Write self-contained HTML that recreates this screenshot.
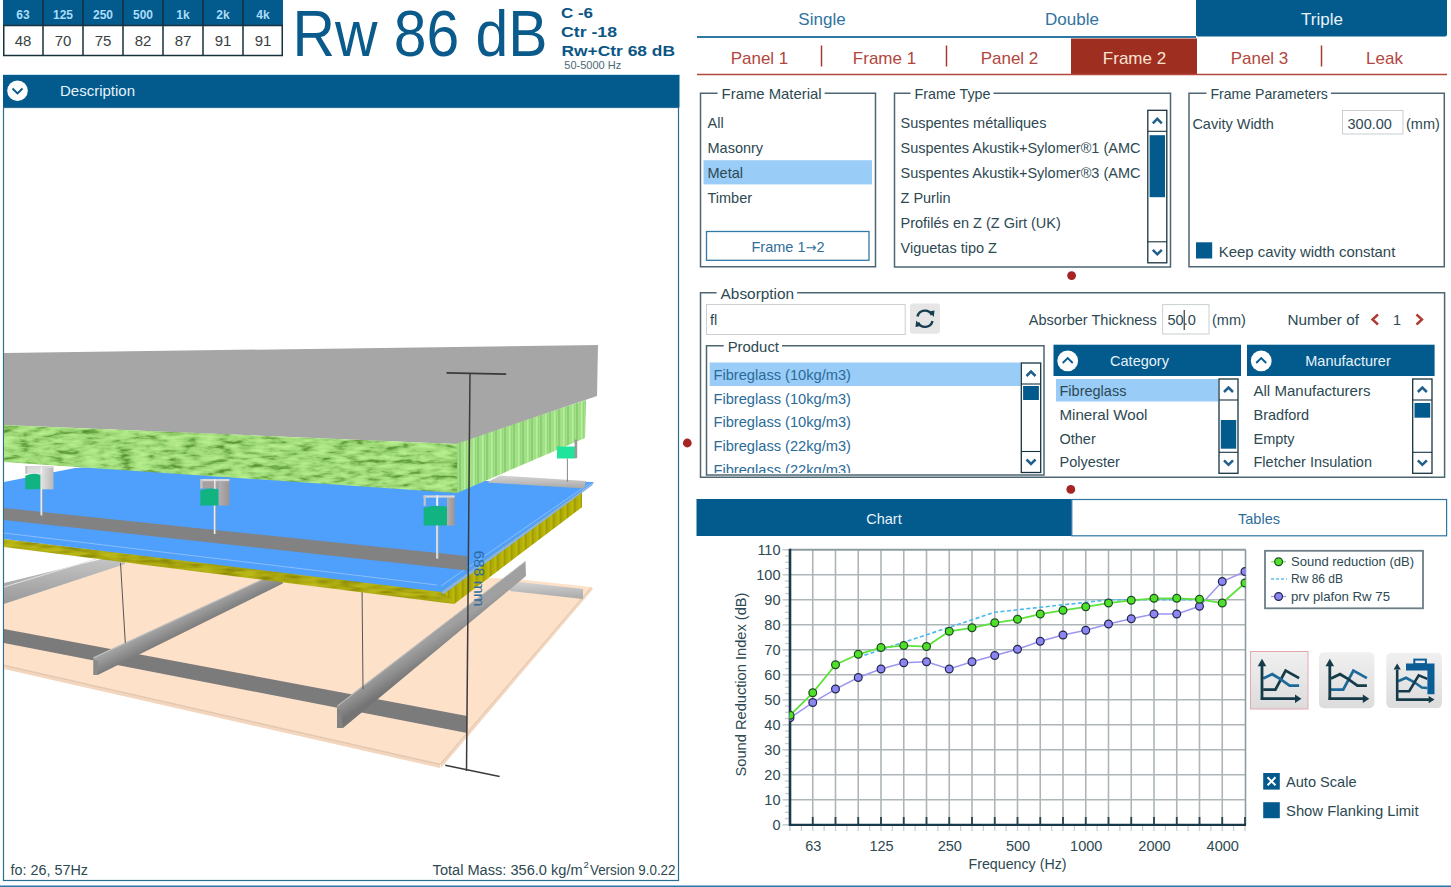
<!DOCTYPE html>
<html><head><meta charset="utf-8"><title>INSUL</title>
<style>
html,body{margin:0;padding:0;background:#fff;}
body{width:1451px;height:887px;overflow:hidden;position:relative;}
svg{position:absolute;left:0;top:0;display:block;}
text{font-family:"Liberation Sans",Arial,sans-serif;}
</style></head><body>
<svg width="1451" height="887" viewBox="0 0 1451 887">
<rect x="3" y="0" width="280" height="25" fill="#035a8c"/>
<rect x="3.75" y="25.5" width="278.5" height="30" fill="#fff" stroke="#17313d" stroke-width="1.5"/>
<text x="23" y="18.5" font-size="12" fill="#a9dcfb" font-weight="bold" text-anchor="middle">63</text>
<text x="23" y="46" font-size="15" fill="#3a3f42" text-anchor="middle">48</text>
<text x="63" y="18.5" font-size="12" fill="#a9dcfb" font-weight="bold" text-anchor="middle">125</text>
<text x="63" y="46" font-size="15" fill="#3a3f42" text-anchor="middle">70</text>
<line x1="43" y1="0" x2="43" y2="56" stroke="#17313d" stroke-width="1.5" />
<text x="103" y="18.5" font-size="12" fill="#a9dcfb" font-weight="bold" text-anchor="middle">250</text>
<text x="103" y="46" font-size="15" fill="#3a3f42" text-anchor="middle">75</text>
<line x1="83" y1="0" x2="83" y2="56" stroke="#17313d" stroke-width="1.5" />
<text x="143" y="18.5" font-size="12" fill="#a9dcfb" font-weight="bold" text-anchor="middle">500</text>
<text x="143" y="46" font-size="15" fill="#3a3f42" text-anchor="middle">82</text>
<line x1="123" y1="0" x2="123" y2="56" stroke="#17313d" stroke-width="1.5" />
<text x="183" y="18.5" font-size="12" fill="#a9dcfb" font-weight="bold" text-anchor="middle">1k</text>
<text x="183" y="46" font-size="15" fill="#3a3f42" text-anchor="middle">87</text>
<line x1="163" y1="0" x2="163" y2="56" stroke="#17313d" stroke-width="1.5" />
<text x="223" y="18.5" font-size="12" fill="#a9dcfb" font-weight="bold" text-anchor="middle">2k</text>
<text x="223" y="46" font-size="15" fill="#3a3f42" text-anchor="middle">91</text>
<line x1="203" y1="0" x2="203" y2="56" stroke="#17313d" stroke-width="1.5" />
<text x="263" y="18.5" font-size="12" fill="#a9dcfb" font-weight="bold" text-anchor="middle">4k</text>
<text x="263" y="46" font-size="15" fill="#3a3f42" text-anchor="middle">91</text>
<line x1="243" y1="0" x2="243" y2="56" stroke="#17313d" stroke-width="1.5" />
<text x="292.5" y="56" font-size="65" fill="#0a5a8b" textLength="255" lengthAdjust="spacingAndGlyphs">Rw 86 dB</text>
<text x="561" y="18.3" font-size="14.5" fill="#0c5685" font-weight="bold" textLength="32" lengthAdjust="spacingAndGlyphs">C -6</text>
<text x="561" y="37" font-size="14.5" fill="#0c5685" font-weight="bold" textLength="56" lengthAdjust="spacingAndGlyphs">Ctr -18</text>
<text x="561.5" y="55.7" font-size="14.5" fill="#0c5685" font-weight="bold" textLength="113.5" lengthAdjust="spacingAndGlyphs">Rw+Ctr 68 dB</text>
<text x="564.3" y="68.5" font-size="11" fill="#4d6775" textLength="57" lengthAdjust="spacingAndGlyphs">50-5000 Hz</text>
<rect x="3" y="75" width="676.5" height="32.5" fill="#035a8c"/>
<line x1="3" y1="74.5" x2="680" y2="74.5" stroke="#c5e6f6" stroke-width="1" />
<rect x="3.5" y="107.5" width="675" height="773" fill="#fff" stroke="#2b6e92" stroke-width="1.2"/>
<circle cx="17.5" cy="90.8" r="10.3" fill="#fff"/>
<polyline points="12.5,88.5 17.5,93.5 22.5,88.5" fill="none" stroke="#035a8c" stroke-width="1.8"/>
<text x="60" y="96.3" font-size="15" fill="#e6f3fb" textLength="75" lengthAdjust="spacingAndGlyphs">Description</text>
<defs><clipPath id="sclip"><rect x="4" y="108" width="674.5" height="771.5"/></clipPath><filter id="gnoise" x="0" y="0" width="1" height="1" filterUnits="objectBoundingBox" color-interpolation-filters="sRGB"><feTurbulence type="fractalNoise" baseFrequency="0.06 0.2" numOctaves="3" seed="11" result="n"/><feColorMatrix in="n" type="matrix" values="1 0 0 0 0  1 0 0 0 0  1 0 0 0 0  0 0 0 0 1" result="g"/><feComponentTransfer in="g" result="c"><feFuncR type="table" tableValues="0.30 0.32 0.40 0.55 0.63 0.68 0.71 0.73 0.74"/><feFuncG type="table" tableValues="0.52 0.55 0.64 0.78 0.86 0.90 0.93 0.95 0.96"/><feFuncB type="table" tableValues="0.16 0.18 0.25 0.40 0.48 0.52 0.55 0.57 0.58"/></feComponentTransfer><feComposite in="c" in2="SourceGraphic" operator="in"/></filter><filter id="ynoise" x="0" y="0" width="1" height="1" filterUnits="objectBoundingBox" color-interpolation-filters="sRGB"><feTurbulence type="fractalNoise" baseFrequency="0.05 0.25" numOctaves="2" seed="3" result="n"/><feColorMatrix in="n" type="matrix" values="1 0 0 0 0  1 0 0 0 0  1 0 0 0 0  0 0 0 0 1" result="g"/><feComponentTransfer in="g" result="c"><feFuncR type="table" tableValues="0.50 0.55 0.64 0.70 0.74 0.75"/><feFuncG type="table" tableValues="0.49 0.54 0.63 0.69 0.73 0.74"/><feFuncB type="table" tableValues="0.02 0.03 0.05 0.08 0.10 0.10"/></feComponentTransfer><feComposite in="c" in2="SourceGraphic" operator="in"/></filter><pattern id="gstripe" x="0" y="0" width="9" height="40" patternUnits="userSpaceOnUse"><rect width="9" height="40" fill="#a2e088"/><rect x="0" width="2" height="40" fill="#8ccf72"/><rect x="5" width="1.5" height="40" fill="#b6ee9c"/><rect x="7" width="1" height="40" fill="#96d67c"/></pattern><pattern id="ystripe" x="0" y="0" width="7" height="40" patternUnits="userSpaceOnUse"><rect width="7" height="40" fill="#b2ae04"/><rect x="0" width="1.6" height="40" fill="#a09c06"/><rect x="4.5" width="1.2" height="40" fill="#c0bc12"/></pattern><linearGradient id="lgbar" x1="0" y1="0" x2="0" y2="1"><stop offset="0" stop-color="#d4d4d4"/><stop offset="1" stop-color="#a8a8a8"/></linearGradient><linearGradient id="ch1" x1="0" y1="0" x2="0" y2="1"><stop offset="0" stop-color="#c6c6c6"/><stop offset="1" stop-color="#999999"/></linearGradient><linearGradient id="brk" x1="0" y1="0" x2="1" y2="0"><stop offset="0" stop-color="#dcdcdc"/><stop offset="1" stop-color="#a0a0a0"/></linearGradient></defs>
<g clip-path="url(#sclip)">
<polygon points="4,604 125,563 517,579 591,587 440,763 4,664" fill="#fde1c9" />
<polygon points="4,664 440,763 440,768 4,669" fill="#f3d6bd" />
<polygon points="440,763 591,587 593,589 441,768" fill="#f3d6bd" />
<line x1="4" y1="665.5" x2="440" y2="764.5" stroke="#dcc0a8" stroke-width="0.8" />
<line x1="440.5" y1="764" x2="591" y2="587.5" stroke="#dcc0a8" stroke-width="0.8" />
<polygon points="510,581 583,589 583,599 510,591" fill="url(#lgbar)" />
<polygon points="4,583 110,557 125,561 125,564 4,604" fill="url(#ch1)" />
<line x1="4" y1="587" x2="96" y2="559" stroke="#e2e2e2" stroke-width="1" />
<polygon points="4,629 467,716 467,733 4,643" fill="#7b7b7b" />
<linearGradient id="c2g" gradientUnits="userSpaceOnUse" x1="150" y1="631" x2="157.5" y2="646.5"><stop offset="0" stop-color="#a6a6a6"/><stop offset="0.5" stop-color="#909090"/><stop offset="1" stop-color="#7a7a7a"/></linearGradient>
<polygon points="93.5,657.3 261.6,579.4 282.8,581.5 282.8,583.6 97.7,675 93.5,675" fill="url(#c2g)" />
<line x1="93.5" y1="657.8" x2="261.6" y2="579.9" stroke="#c8c8c8" stroke-width="0.9" />
<polygon points="93.5,659 97.7,661 97.7,675 93.5,675" fill="#8a8a8a" />
<linearGradient id="c3g" gradientUnits="userSpaceOnUse" x1="400" y1="658" x2="411" y2="675"><stop offset="0" stop-color="#a0a0a0"/><stop offset="0.5" stop-color="#8c8c8c"/><stop offset="1" stop-color="#747474"/></linearGradient>
<polygon points="337,705.5 525.5,561 526,576 343,728 337,728" fill="url(#c3g)" />
<line x1="337.5" y1="706" x2="525.5" y2="561.5" stroke="#c4c4c4" stroke-width="0.9" />
<polygon points="337,708 341,710 343,728 337,728" fill="#838383" />
<line x1="120.5" y1="563" x2="125.3" y2="643" stroke="#555" stroke-width="1" />
<line x1="362" y1="584" x2="363" y2="689" stroke="#555" stroke-width="1" />
<polygon points="4,539 441,590 582,490 582,507 454,604 4,547" fill="#a4a010" filter="url(#ynoise)"/>
<polygon points="441,590 582,490 582,507 454,604" fill="url(#ystripe)" />
<polygon points="4,482 75,468 110,466 487,481 594,482 441.5,592 4,539" fill="#4f9ffd" />
<line x1="4" y1="533" x2="437" y2="585" stroke="#8fc2f8" stroke-width="0.9" />
<polygon points="441.5,592 594,482 592,485.5 443,594.5" fill="#86b2e6" />
<line x1="441" y1="586" x2="590" y2="483" stroke="#8fc2f8" stroke-width="0.9" />
<polygon points="500,475.5 586,481 584,488.5 487,482.5" fill="url(#lgbar)" />
<polygon points="4,508 467,556 467,570.5 4,520" fill="#828282" />
<polygon points="456,443 586,400 585,438 457,493" fill="url(#gstripe)" />
<polygon points="4,353 598,345 597,396 456,444 4,425" fill="#a6a6a6" />
<polygon points="4,425 457,444 457,493 4,462" fill="#a8e792" filter="url(#gnoise)"/>
<linearGradient id="bk1" x1="0" y1="0" x2="1" y2="0"><stop offset="0" stop-color="#e6e6e6"/><stop offset="1" stop-color="#b8b8b8"/></linearGradient>
<linearGradient id="bk2" x1="0" y1="0" x2="1" y2="0"><stop offset="0" stop-color="#b4aeae"/><stop offset="1" stop-color="#9a9494"/></linearGradient>
<line x1="41.5" y1="466" x2="41.5" y2="515.4" stroke="#ececec" stroke-width="2" />
<line x1="42.5" y1="489.3" x2="42.5" y2="515.4" stroke="#9a9a9a" stroke-width="0.8" />
<rect x="40.3" y="467" width="13.200000000000003" height="22.30000000000001" fill="url(#bk1)"/>
<rect x="25.3" y="466" width="14.999999999999996" height="7.699999999999989" fill="#dedede"/>
<rect x="25.3" y="466" width="28.2" height="2.2" fill="#d8d8d8"/>
<rect x="25.3" y="466" width="2.2" height="7.699999999999989" fill="#c4c4c4"/>
<path d="M25.3,489.3 V475.7 Q32.8,472.2 40.3,474.7 V489.3 Z" fill="#11b481"/>
<line x1="41.5" y1="466" x2="41.5" y2="473.7" stroke="#f0f0f0" stroke-width="1.4" />
<line x1="214.8" y1="479" x2="214.8" y2="534" stroke="#ececec" stroke-width="2" />
<line x1="215.8" y1="505.5" x2="215.8" y2="534" stroke="#9a9a9a" stroke-width="0.8" />
<rect x="218.4" y="480" width="11.0" height="25.5" fill="url(#bk2)"/>
<rect x="200.3" y="479" width="18.099999999999994" height="9.5" fill="#a8a0a0"/>
<rect x="200.3" y="479" width="29.099999999999994" height="2.2" fill="#d8d8d8"/>
<rect x="200.3" y="479" width="2.2" height="9.5" fill="#c4c4c4"/>
<path d="M200.3,505.5 V490.5 Q209.35000000000002,487.0 218.4,489.5 V505.5 Z" fill="#11b481"/>
<line x1="214.8" y1="479" x2="214.8" y2="488.5" stroke="#f0f0f0" stroke-width="1.4" />
<line x1="437.2" y1="495.4" x2="437.2" y2="558.6" stroke="#ececec" stroke-width="2" />
<line x1="438.2" y1="525.6" x2="438.2" y2="558.6" stroke="#9a9a9a" stroke-width="0.8" />
<rect x="447" y="496.4" width="7.699999999999989" height="29.200000000000045" fill="url(#bk2)"/>
<rect x="423.6" y="495.4" width="31.099999999999966" height="2.2" fill="#d8d8d8"/>
<rect x="423.6" y="495.4" width="2.2" height="10.400000000000034" fill="#c4c4c4"/>
<path d="M423.6,525.6 V507.8 Q435.3,504.3 447,506.8 V525.6 Z" fill="#11b481"/>
<line x1="437.2" y1="495.4" x2="437.2" y2="505.8" stroke="#f0f0f0" stroke-width="1.4" />
<rect x="557" y="446.5" width="18" height="12" fill="#20e39c"/>
<rect x="574.6" y="439.6" width="2.6" height="18.6" fill="#9a9a9a"/>
<line x1="567.4" y1="458.5" x2="567.4" y2="482" stroke="#888" stroke-width="1" />
<line x1="470" y1="373" x2="466.5" y2="771" stroke="#3b3b3b" stroke-width="1.5" />
<line x1="446.5" y1="372.8" x2="506.2" y2="374.1" stroke="#3b3b3b" stroke-width="1.8" />
<line x1="445.2" y1="765.3" x2="499.6" y2="776.5" stroke="#3b3b3b" stroke-width="1.5" />
<text transform="translate(473.5,550.5) rotate(90)" x="0" y="0" font-size="15" fill="#2d6ca0" textLength="56" lengthAdjust="spacingAndGlyphs">688 mm</text>
</g>
<text x="10.5" y="874.8" font-size="14" fill="#2d4952" textLength="77.5" lengthAdjust="spacingAndGlyphs">fo: 26, 57Hz</text>
<text x="432.6" y="874.8" font-size="14" fill="#2d4952" textLength="150" lengthAdjust="spacingAndGlyphs">Total Mass: 356.0 kg/m</text>
<text x="583.5" y="868" font-size="9.5" fill="#2d4952">2</text>
<text x="590" y="874.8" font-size="14" fill="#2d4952" textLength="85.5" lengthAdjust="spacingAndGlyphs">Version 9.0.22</text>
<rect x="1196" y="0" width="251" height="36.5" fill="#035a8c" rx="2"/>
<rect x="1196" y="0" width="251" height="4" fill="#035a8c"/>
<line x1="697" y1="37" x2="1196" y2="37" stroke="#2f77a5" stroke-width="2" />
<text x="822" y="24.8" font-size="17" fill="#2f73a0" text-anchor="middle">Single</text>
<text x="1072" y="24.8" font-size="17" fill="#2f73a0" text-anchor="middle">Double</text>
<text x="1322" y="24.8" font-size="17" fill="#e8f3fb" text-anchor="middle">Triple</text>
<rect x="1071" y="38.5" width="126" height="35.5" fill="#9e2e1f"/>
<line x1="697" y1="74.4" x2="1447" y2="74.4" stroke="#b4473d" stroke-width="1.5" />
<text x="759.5" y="63.8" font-size="17" fill="#b2463e" text-anchor="middle">Panel 1</text>
<text x="884.5" y="63.8" font-size="17" fill="#b2463e" text-anchor="middle">Frame 1</text>
<text x="1009.5" y="63.8" font-size="17" fill="#b2463e" text-anchor="middle">Panel 2</text>
<text x="1134.5" y="63.8" font-size="17" fill="#fbe3d2" text-anchor="middle">Frame 2</text>
<text x="1259.5" y="63.8" font-size="17" fill="#b2463e" text-anchor="middle">Panel 3</text>
<text x="1384.5" y="63.8" font-size="17" fill="#b2463e" text-anchor="middle">Leak</text>
<line x1="821.5" y1="45.5" x2="821.5" y2="66.5" stroke="#a53c33" stroke-width="1.5" />
<line x1="946.5" y1="45.5" x2="946.5" y2="66.5" stroke="#a53c33" stroke-width="1.5" />
<line x1="1321.5" y1="45.5" x2="1321.5" y2="66.5" stroke="#a53c33" stroke-width="1.5" />
<path d="M717.6,93.3 H700.5 V266.7 H875.5 V93.3 H824.6" fill="none" stroke="#4d6672" stroke-width="1.5"/>
<text x="721.6" y="98.5" font-size="14.5" fill="#2d4952" textLength="100" lengthAdjust="spacingAndGlyphs">Frame Material</text>
<rect x="703.5" y="160" width="368.5" height="0" fill="none"/>
<rect x="703.5" y="160.2" width="168.5" height="24.2" fill="#99ccf7"/>
<text x="707.5" y="128.3" font-size="14.5" fill="#2d4952">All</text>
<text x="707.5" y="153.3" font-size="14.5" fill="#2d4952">Masonry</text>
<text x="707.5" y="178.3" font-size="14.5" fill="#2d4952">Metal</text>
<text x="707.5" y="203.3" font-size="14.5" fill="#2d4952">Timber</text>
<rect x="706.5" y="231.5" width="162.5" height="28.8" fill="#fff" stroke="#3279a6" stroke-width="1.3"/>
<text x="788" y="251.9" font-size="14.5" fill="#2f6e99" text-anchor="middle">Frame 1<tspan font-family="DejaVu Sans" font-size="13">→</tspan>2</text>
<path d="M910.5,93.3 H894.5 V267 H1170.5 V93.3 H993.5" fill="none" stroke="#4d6672" stroke-width="1.5"/>
<text x="914.5" y="98.5" font-size="14.5" fill="#2d4952" textLength="76" lengthAdjust="spacingAndGlyphs">Frame Type</text>
<clipPath id="ftclip"><rect x="895" y="100" width="248.5" height="165"/></clipPath><g clip-path="url(#ftclip)">
<text x="900.5" y="128.3" font-size="14.5" fill="#2d4952">Suspentes métalliques</text>
<text x="900.5" y="153.3" font-size="14.5" fill="#2d4952">Suspentes Akustik+Sylomer®1 (AMC</text>
<text x="900.5" y="178.3" font-size="14.5" fill="#2d4952">Suspentes Akustik+Sylomer®3 (AMC</text>
<text x="900.5" y="203.3" font-size="14.5" fill="#2d4952">Z Purlin</text>
<text x="900.5" y="228.3" font-size="14.5" fill="#2d4952">Profilés en Z (Z Girt (UK)</text>
<text x="900.5" y="253.3" font-size="14.5" fill="#2d4952">Viguetas tipo Z</text>
</g>
<rect x="1147.8" y="110.3" width="19.0" height="152.5" fill="#fff" stroke="#18333f" stroke-width="1.3"/>
<line x1="1147.8" y1="131.3" x2="1166.8" y2="131.3" stroke="#18333f" stroke-width="1.1" />
<line x1="1147.8" y1="241.8" x2="1166.8" y2="241.8" stroke="#18333f" stroke-width="1.1" />
<polyline points="1152.8,123.3 1157.3,118.8 1161.8,123.3" fill="none" stroke="#1f5f8a" stroke-width="2.5"/>
<polyline points="1152.8,249.8 1157.3,254.3 1161.8,249.8" fill="none" stroke="#1f5f8a" stroke-width="2.5"/>
<rect x="1149.6" y="135.2" width="15.400000000000091" height="62.0" fill="#035a8c"/>
<path d="M1206.4,93.3 H1189 V266.7 H1444.3 V93.3 H1330.9" fill="none" stroke="#4d6672" stroke-width="1.5"/>
<text x="1210.4" y="98.5" font-size="14.5" fill="#2d4952" textLength="117.5" lengthAdjust="spacingAndGlyphs">Frame Parameters</text>
<text x="1192.4" y="128.5" font-size="14.5" fill="#2d4952">Cavity Width</text>
<rect x="1342.5" y="110.5" width="60.5" height="23.5" fill="#fff" stroke="#c9cfd2" stroke-width="1"/>
<text x="1347.5" y="128.5" font-size="14.5" fill="#2d4952">300.00</text>
<text x="1406" y="128.5" font-size="14.5" fill="#2d4952">(mm)</text>
<rect x="1196" y="242.3" width="16.2" height="16.2" fill="#035a8c"/>
<text x="1218.8" y="257" font-size="14.5" fill="#2d4952" textLength="176.5" lengthAdjust="spacingAndGlyphs">Keep cavity width constant</text>
<circle cx="1071.6" cy="275.6" r="4.4" fill="#a52424"/>
<path d="M716.6,292.8 H700.5 V477.3 H1444.6 V292.8 H797.1" fill="none" stroke="#4d6672" stroke-width="1.5"/>
<text x="720.6" y="298.9" font-size="14.5" fill="#2d4952" textLength="73.5" lengthAdjust="spacingAndGlyphs">Absorption</text>
<rect x="706.5" y="304.5" width="198.7" height="30" fill="#fff" stroke="#c9cfd2" stroke-width="1"/>
<text x="710" y="324.5" font-size="14.5" fill="#2d4952">fl</text>
<rect x="910" y="303.6" width="30" height="30.2" fill="#e6e6e6" rx="3"/>
<g fill="none" stroke="#163e4e" stroke-width="2.4"><path d="M917.5,316.5 A7.6,7.6 0 0 1 931.8,315"/><path d="M932.5,321 A7.6,7.6 0 0 1 918.2,322.5"/></g>
<polygon points="929,311.5 934.5,310.5 933.8,317" fill="#163e4e"/>
<polygon points="921,326 915.5,327 916.2,320.5" fill="#163e4e"/>
<text x="1028.8" y="325" font-size="14.5" fill="#2d4952" textLength="128" lengthAdjust="spacingAndGlyphs">Absorber Thickness</text>
<rect x="1162.6" y="304.6" width="46.4" height="29.4" fill="#fff" stroke="#c9cfd2" stroke-width="1"/>
<text x="1167.5" y="325" font-size="14.5" fill="#2d4952">50.0</text>
<line x1="1184.2" y1="310" x2="1184.2" y2="330" stroke="#111" stroke-width="1" />
<text x="1212" y="325" font-size="14.5" fill="#2d4952">(mm)</text>
<text x="1287.5" y="325" font-size="14.5" fill="#2d4952" textLength="71.5" lengthAdjust="spacingAndGlyphs">Number of</text>
<polyline points="1378,314.5 1372.5,319.5 1378,324.5" fill="none" stroke="#b03a30" stroke-width="2.4"/>
<text x="1397" y="325" font-size="14.5" fill="#2d4952" text-anchor="middle">1</text>
<polyline points="1416.5,314.5 1422,319.5 1416.5,324.5" fill="none" stroke="#b03a30" stroke-width="2.4"/>
<path d="M723.7,345.8 H706.5 V475 H1044 V345.8 H782.0" fill="none" stroke="#4d6672" stroke-width="1.5"/>
<text x="727.7" y="351.5" font-size="14.5" fill="#2d4952" textLength="51.3" lengthAdjust="spacingAndGlyphs">Product</text>
<rect x="709.6" y="362.5" width="311" height="23.5" fill="#99ccf7"/>
<clipPath id="pclip"><rect x="707" y="360" width="320" height="113"/></clipPath>
<g clip-path="url(#pclip)">
<text x="713.5" y="379.8" font-size="14.5" fill="#2a6b98" textLength="137.5" lengthAdjust="spacingAndGlyphs">Fibreglass (10kg/m3)</text>
<text x="713.5" y="403.5" font-size="14.5" fill="#2a6b98" textLength="137.5" lengthAdjust="spacingAndGlyphs">Fibreglass (10kg/m3)</text>
<text x="713.5" y="427.2" font-size="14.5" fill="#2a6b98" textLength="137.5" lengthAdjust="spacingAndGlyphs">Fibreglass (10kg/m3)</text>
<text x="713.5" y="450.9" font-size="14.5" fill="#2a6b98" textLength="137.5" lengthAdjust="spacingAndGlyphs">Fibreglass (22kg/m3)</text>
<text x="713.5" y="474.6" font-size="14.5" fill="#2a6b98" textLength="137.5" lengthAdjust="spacingAndGlyphs">Fibreglass (22kg/m3)</text>
</g>
<rect x="1021.3" y="363" width="19.40000000000009" height="109.5" fill="#fff" stroke="#18333f" stroke-width="1.3"/>
<line x1="1021.3" y1="384" x2="1040.7" y2="384" stroke="#18333f" stroke-width="1.1" />
<line x1="1021.3" y1="451.5" x2="1040.7" y2="451.5" stroke="#18333f" stroke-width="1.1" />
<polyline points="1026.5,376 1031.0,371.5 1035.5,376" fill="none" stroke="#1f5f8a" stroke-width="2.5"/>
<polyline points="1026.5,459.5 1031.0,464.0 1035.5,459.5" fill="none" stroke="#1f5f8a" stroke-width="2.5"/>
<rect x="1023.0999999999999" y="386" width="15.800000000000182" height="14" fill="#035a8c"/>
<rect x="1053.5" y="344.7" width="187.5" height="31.3" fill="#035a8c"/>
<circle cx="1067.7" cy="360.8" r="10.4" fill="#fff"/>
<polyline points="1062.7,363 1067.7,358 1072.7,363" fill="none" stroke="#035a8c" stroke-width="1.8"/>
<text x="1139.5" y="366.3" font-size="14.5" fill="#e6f3fb" text-anchor="middle">Category</text>
<rect x="1247" y="344.7" width="187.5999999999999" height="31.3" fill="#035a8c"/>
<circle cx="1261.2" cy="360.8" r="10.4" fill="#fff"/>
<polyline points="1256.2,363 1261.2,358 1266.2,363" fill="none" stroke="#035a8c" stroke-width="1.8"/>
<text x="1348" y="366.3" font-size="14.5" fill="#e6f3fb" text-anchor="middle">Manufacturer</text>
<rect x="1056" y="379" width="162" height="22.5" fill="#99ccf7"/>
<text x="1059.5" y="396.4" font-size="14.5" fill="#2d4952">Fibreglass</text>
<text x="1059.5" y="420.0" font-size="14.5" fill="#2d4952" textLength="88" lengthAdjust="spacingAndGlyphs">Mineral Wool</text>
<text x="1059.5" y="443.59999999999997" font-size="14.5" fill="#2d4952">Other</text>
<text x="1059.5" y="467.2" font-size="14.5" fill="#2d4952">Polyester</text>
<rect x="1219" y="379" width="19" height="94.30000000000001" fill="#fff" stroke="#18333f" stroke-width="1.3"/>
<line x1="1219" y1="400" x2="1238" y2="400" stroke="#18333f" stroke-width="1.1" />
<line x1="1219" y1="452.3" x2="1238" y2="452.3" stroke="#18333f" stroke-width="1.1" />
<polyline points="1224.0,392 1228.5,387.5 1233.0,392" fill="none" stroke="#1f5f8a" stroke-width="2.5"/>
<polyline points="1224.0,460.3 1228.5,464.8 1233.0,460.3" fill="none" stroke="#1f5f8a" stroke-width="2.5"/>
<rect x="1220.8" y="420" width="15.400000000000091" height="28.69999999999999" fill="#035a8c"/>
<text x="1253.5" y="396.4" font-size="14.5" fill="#2d4952" textLength="117" lengthAdjust="spacingAndGlyphs">All Manufacturers</text>
<text x="1253.5" y="420.0" font-size="14.5" fill="#2d4952">Bradford</text>
<text x="1253.5" y="443.59999999999997" font-size="14.5" fill="#2d4952">Empty</text>
<text x="1253.5" y="467.2" font-size="14.5" fill="#2d4952">Fletcher Insulation</text>
<rect x="1412.7" y="379" width="19.299999999999955" height="94.30000000000001" fill="#fff" stroke="#18333f" stroke-width="1.3"/>
<line x1="1412.7" y1="400" x2="1432" y2="400" stroke="#18333f" stroke-width="1.1" />
<line x1="1412.7" y1="452.3" x2="1432" y2="452.3" stroke="#18333f" stroke-width="1.1" />
<polyline points="1417.85,392 1422.35,387.5 1426.85,392" fill="none" stroke="#1f5f8a" stroke-width="2.5"/>
<polyline points="1417.85,460.3 1422.35,464.8 1426.85,460.3" fill="none" stroke="#1f5f8a" stroke-width="2.5"/>
<rect x="1414.5" y="403" width="15.700000000000045" height="14.699999999999989" fill="#035a8c"/>
<circle cx="687.3" cy="443" r="4.4" fill="#a52424"/>
<circle cx="1070.8" cy="489.4" r="4.4" fill="#a52424"/>
<rect x="696.5" y="499" width="375.3" height="37" fill="#035a8c"/>
<rect x="1071.8" y="499.5" width="374.8" height="36.3" fill="#fff" stroke="#2f74a3" stroke-width="1.2"/>
<text x="884" y="523.5" font-size="14.5" fill="#e6f3fb" text-anchor="middle">Chart</text>
<text x="1259" y="523.5" font-size="14.5" fill="#2c6d99" text-anchor="middle">Tables</text>
<g stroke="#adb5b8" stroke-width="1.6"><line x1="812.75" y1="549.8" x2="812.75" y2="824.8"/><line x1="835.50" y1="549.8" x2="835.50" y2="824.8"/><line x1="858.25" y1="549.8" x2="858.25" y2="824.8"/><line x1="881.00" y1="549.8" x2="881.00" y2="824.8"/><line x1="903.75" y1="549.8" x2="903.75" y2="824.8"/><line x1="926.50" y1="549.8" x2="926.50" y2="824.8"/><line x1="949.25" y1="549.8" x2="949.25" y2="824.8"/><line x1="972.00" y1="549.8" x2="972.00" y2="824.8"/><line x1="994.75" y1="549.8" x2="994.75" y2="824.8"/><line x1="1017.50" y1="549.8" x2="1017.50" y2="824.8"/><line x1="1040.25" y1="549.8" x2="1040.25" y2="824.8"/><line x1="1063.00" y1="549.8" x2="1063.00" y2="824.8"/><line x1="1085.75" y1="549.8" x2="1085.75" y2="824.8"/><line x1="1108.50" y1="549.8" x2="1108.50" y2="824.8"/><line x1="1131.25" y1="549.8" x2="1131.25" y2="824.8"/><line x1="1154.00" y1="549.8" x2="1154.00" y2="824.8"/><line x1="1176.75" y1="549.8" x2="1176.75" y2="824.8"/><line x1="1199.50" y1="549.8" x2="1199.50" y2="824.8"/><line x1="1222.25" y1="549.8" x2="1222.25" y2="824.8"/><line x1="790.0" y1="799.80" x2="1245.0" y2="799.80"/><line x1="790.0" y1="774.80" x2="1245.0" y2="774.80"/><line x1="790.0" y1="749.80" x2="1245.0" y2="749.80"/><line x1="790.0" y1="724.80" x2="1245.0" y2="724.80"/><line x1="790.0" y1="699.80" x2="1245.0" y2="699.80"/><line x1="790.0" y1="674.80" x2="1245.0" y2="674.80"/><line x1="790.0" y1="649.80" x2="1245.0" y2="649.80"/><line x1="790.0" y1="624.80" x2="1245.0" y2="624.80"/><line x1="790.0" y1="599.80" x2="1245.0" y2="599.80"/><line x1="790.0" y1="574.80" x2="1245.0" y2="574.80"/></g>
<line x1="790.0" y1="549.8" x2="1245.8" y2="549.8" stroke="#8e9ca2" stroke-width="2" />
<line x1="1245.5" y1="549.8" x2="1245.5" y2="824.8" stroke="#8e9ca2" stroke-width="1.6" />
<g stroke="#c9ced1"><line x1="782.5" y1="824.80" x2="789" y2="824.80" stroke-width="1.6"/><line x1="785" y1="818.55" x2="789" y2="818.55" stroke-width="1.3"/><line x1="785" y1="812.30" x2="789" y2="812.30" stroke-width="1.3"/><line x1="785" y1="806.05" x2="789" y2="806.05" stroke-width="1.3"/><line x1="782.5" y1="799.80" x2="789" y2="799.80" stroke-width="1.6"/><line x1="785" y1="793.55" x2="789" y2="793.55" stroke-width="1.3"/><line x1="785" y1="787.30" x2="789" y2="787.30" stroke-width="1.3"/><line x1="785" y1="781.05" x2="789" y2="781.05" stroke-width="1.3"/><line x1="782.5" y1="774.80" x2="789" y2="774.80" stroke-width="1.6"/><line x1="785" y1="768.55" x2="789" y2="768.55" stroke-width="1.3"/><line x1="785" y1="762.30" x2="789" y2="762.30" stroke-width="1.3"/><line x1="785" y1="756.05" x2="789" y2="756.05" stroke-width="1.3"/><line x1="782.5" y1="749.80" x2="789" y2="749.80" stroke-width="1.6"/><line x1="785" y1="743.55" x2="789" y2="743.55" stroke-width="1.3"/><line x1="785" y1="737.30" x2="789" y2="737.30" stroke-width="1.3"/><line x1="785" y1="731.05" x2="789" y2="731.05" stroke-width="1.3"/><line x1="782.5" y1="724.80" x2="789" y2="724.80" stroke-width="1.6"/><line x1="785" y1="718.55" x2="789" y2="718.55" stroke-width="1.3"/><line x1="785" y1="712.30" x2="789" y2="712.30" stroke-width="1.3"/><line x1="785" y1="706.05" x2="789" y2="706.05" stroke-width="1.3"/><line x1="782.5" y1="699.80" x2="789" y2="699.80" stroke-width="1.6"/><line x1="785" y1="693.55" x2="789" y2="693.55" stroke-width="1.3"/><line x1="785" y1="687.30" x2="789" y2="687.30" stroke-width="1.3"/><line x1="785" y1="681.05" x2="789" y2="681.05" stroke-width="1.3"/><line x1="782.5" y1="674.80" x2="789" y2="674.80" stroke-width="1.6"/><line x1="785" y1="668.55" x2="789" y2="668.55" stroke-width="1.3"/><line x1="785" y1="662.30" x2="789" y2="662.30" stroke-width="1.3"/><line x1="785" y1="656.05" x2="789" y2="656.05" stroke-width="1.3"/><line x1="782.5" y1="649.80" x2="789" y2="649.80" stroke-width="1.6"/><line x1="785" y1="643.55" x2="789" y2="643.55" stroke-width="1.3"/><line x1="785" y1="637.30" x2="789" y2="637.30" stroke-width="1.3"/><line x1="785" y1="631.05" x2="789" y2="631.05" stroke-width="1.3"/><line x1="782.5" y1="624.80" x2="789" y2="624.80" stroke-width="1.6"/><line x1="785" y1="618.55" x2="789" y2="618.55" stroke-width="1.3"/><line x1="785" y1="612.30" x2="789" y2="612.30" stroke-width="1.3"/><line x1="785" y1="606.05" x2="789" y2="606.05" stroke-width="1.3"/><line x1="782.5" y1="599.80" x2="789" y2="599.80" stroke-width="1.6"/><line x1="785" y1="593.55" x2="789" y2="593.55" stroke-width="1.3"/><line x1="785" y1="587.30" x2="789" y2="587.30" stroke-width="1.3"/><line x1="785" y1="581.05" x2="789" y2="581.05" stroke-width="1.3"/><line x1="782.5" y1="574.80" x2="789" y2="574.80" stroke-width="1.6"/><line x1="785" y1="568.55" x2="789" y2="568.55" stroke-width="1.3"/><line x1="785" y1="562.30" x2="789" y2="562.30" stroke-width="1.3"/><line x1="785" y1="556.05" x2="789" y2="556.05" stroke-width="1.3"/><line x1="782.5" y1="549.80" x2="789" y2="549.80" stroke-width="1.6"/><line x1="790.00" y1="825" x2="790.00" y2="831" stroke-width="1.3"/><line x1="801.38" y1="825" x2="801.38" y2="831" stroke-width="1.3"/><line x1="812.75" y1="825" x2="812.75" y2="831" stroke-width="1.3"/><line x1="824.12" y1="825" x2="824.12" y2="831" stroke-width="1.3"/><line x1="835.50" y1="825" x2="835.50" y2="831" stroke-width="1.3"/><line x1="846.88" y1="825" x2="846.88" y2="831" stroke-width="1.3"/><line x1="858.25" y1="825" x2="858.25" y2="831" stroke-width="1.3"/><line x1="869.62" y1="825" x2="869.62" y2="831" stroke-width="1.3"/><line x1="881.00" y1="825" x2="881.00" y2="831" stroke-width="1.3"/><line x1="892.38" y1="825" x2="892.38" y2="831" stroke-width="1.3"/><line x1="903.75" y1="825" x2="903.75" y2="831" stroke-width="1.3"/><line x1="915.12" y1="825" x2="915.12" y2="831" stroke-width="1.3"/><line x1="926.50" y1="825" x2="926.50" y2="831" stroke-width="1.3"/><line x1="937.88" y1="825" x2="937.88" y2="831" stroke-width="1.3"/><line x1="949.25" y1="825" x2="949.25" y2="831" stroke-width="1.3"/><line x1="960.62" y1="825" x2="960.62" y2="831" stroke-width="1.3"/><line x1="972.00" y1="825" x2="972.00" y2="831" stroke-width="1.3"/><line x1="983.38" y1="825" x2="983.38" y2="831" stroke-width="1.3"/><line x1="994.75" y1="825" x2="994.75" y2="831" stroke-width="1.3"/><line x1="1006.12" y1="825" x2="1006.12" y2="831" stroke-width="1.3"/><line x1="1017.50" y1="825" x2="1017.50" y2="831" stroke-width="1.3"/><line x1="1028.88" y1="825" x2="1028.88" y2="831" stroke-width="1.3"/><line x1="1040.25" y1="825" x2="1040.25" y2="831" stroke-width="1.3"/><line x1="1051.62" y1="825" x2="1051.62" y2="831" stroke-width="1.3"/><line x1="1063.00" y1="825" x2="1063.00" y2="831" stroke-width="1.3"/><line x1="1074.38" y1="825" x2="1074.38" y2="831" stroke-width="1.3"/><line x1="1085.75" y1="825" x2="1085.75" y2="831" stroke-width="1.3"/><line x1="1097.12" y1="825" x2="1097.12" y2="831" stroke-width="1.3"/><line x1="1108.50" y1="825" x2="1108.50" y2="831" stroke-width="1.3"/><line x1="1119.88" y1="825" x2="1119.88" y2="831" stroke-width="1.3"/><line x1="1131.25" y1="825" x2="1131.25" y2="831" stroke-width="1.3"/><line x1="1142.62" y1="825" x2="1142.62" y2="831" stroke-width="1.3"/><line x1="1154.00" y1="825" x2="1154.00" y2="831" stroke-width="1.3"/><line x1="1165.38" y1="825" x2="1165.38" y2="831" stroke-width="1.3"/><line x1="1176.75" y1="825" x2="1176.75" y2="831" stroke-width="1.3"/><line x1="1188.12" y1="825" x2="1188.12" y2="831" stroke-width="1.3"/><line x1="1199.50" y1="825" x2="1199.50" y2="831" stroke-width="1.3"/><line x1="1210.88" y1="825" x2="1210.88" y2="831" stroke-width="1.3"/><line x1="1222.25" y1="825" x2="1222.25" y2="831" stroke-width="1.3"/><line x1="1233.62" y1="825" x2="1233.62" y2="831" stroke-width="1.3"/><line x1="1245.00" y1="825" x2="1245.00" y2="831" stroke-width="1.3"/></g>
<g stroke="#28434d" stroke-width="1.8"><line x1="812.75" y1="817" x2="812.75" y2="825"/><line x1="835.50" y1="817" x2="835.50" y2="825"/><line x1="858.25" y1="817" x2="858.25" y2="825"/><line x1="881.00" y1="817" x2="881.00" y2="825"/><line x1="903.75" y1="817" x2="903.75" y2="825"/><line x1="926.50" y1="817" x2="926.50" y2="825"/><line x1="949.25" y1="817" x2="949.25" y2="825"/><line x1="972.00" y1="817" x2="972.00" y2="825"/><line x1="994.75" y1="817" x2="994.75" y2="825"/><line x1="1017.50" y1="817" x2="1017.50" y2="825"/><line x1="1040.25" y1="817" x2="1040.25" y2="825"/><line x1="1063.00" y1="817" x2="1063.00" y2="825"/><line x1="1085.75" y1="817" x2="1085.75" y2="825"/><line x1="1108.50" y1="817" x2="1108.50" y2="825"/><line x1="1131.25" y1="817" x2="1131.25" y2="825"/><line x1="1154.00" y1="817" x2="1154.00" y2="825"/><line x1="1176.75" y1="817" x2="1176.75" y2="825"/><line x1="1199.50" y1="817" x2="1199.50" y2="825"/><line x1="1222.25" y1="817" x2="1222.25" y2="825"/><line x1="1245.00" y1="817" x2="1245.00" y2="825"/></g>
<line x1="790" y1="548.8" x2="790" y2="826" stroke="#17394a" stroke-width="2.6" />
<line x1="789" y1="824.9" x2="1246" y2="824.9" stroke="#17394a" stroke-width="2.2" />
<text x="780.5" y="830.0" font-size="14.5" fill="#2d4952" text-anchor="end">0</text>
<text x="780.5" y="805.0" font-size="14.5" fill="#2d4952" text-anchor="end">10</text>
<text x="780.5" y="780.0" font-size="14.5" fill="#2d4952" text-anchor="end">20</text>
<text x="780.5" y="755.0" font-size="14.5" fill="#2d4952" text-anchor="end">30</text>
<text x="780.5" y="730.0" font-size="14.5" fill="#2d4952" text-anchor="end">40</text>
<text x="780.5" y="705.0" font-size="14.5" fill="#2d4952" text-anchor="end">50</text>
<text x="780.5" y="680.0" font-size="14.5" fill="#2d4952" text-anchor="end">60</text>
<text x="780.5" y="655.0" font-size="14.5" fill="#2d4952" text-anchor="end">70</text>
<text x="780.5" y="630.0" font-size="14.5" fill="#2d4952" text-anchor="end">80</text>
<text x="780.5" y="605.0" font-size="14.5" fill="#2d4952" text-anchor="end">90</text>
<text x="780.5" y="580.0" font-size="14.5" fill="#2d4952" text-anchor="end">100</text>
<text x="780.5" y="555.0" font-size="14.5" fill="#2d4952" text-anchor="end">110</text>
<text x="813.25" y="850.6" font-size="14.5" fill="#2d4952" text-anchor="middle">63</text>
<text x="881.5" y="850.6" font-size="14.5" fill="#2d4952" text-anchor="middle">125</text>
<text x="949.75" y="850.6" font-size="14.5" fill="#2d4952" text-anchor="middle">250</text>
<text x="1018.0" y="850.6" font-size="14.5" fill="#2d4952" text-anchor="middle">500</text>
<text x="1086.25" y="850.6" font-size="14.5" fill="#2d4952" text-anchor="middle">1000</text>
<text x="1154.5" y="850.6" font-size="14.5" fill="#2d4952" text-anchor="middle">2000</text>
<text x="1222.75" y="850.6" font-size="14.5" fill="#2d4952" text-anchor="middle">4000</text>
<text x="1017.5" y="868.5" font-size="14.5" fill="#2d4952" text-anchor="middle" textLength="98" lengthAdjust="spacingAndGlyphs">Frequency (Hz)</text>
<text transform="translate(746,684.5) rotate(-90)" x="0" y="0" font-size="14.5" fill="#2d4952" text-anchor="middle" textLength="184" lengthAdjust="spacingAndGlyphs">Sound Reduction Index (dB)</text>
<clipPath id="cclip"><rect x="789.5" y="540" width="456.0" height="290"/></clipPath>
<g clip-path="url(#cclip)">
<polyline points="858.25,657.30 881.00,649.80 903.75,642.30 926.50,634.80 949.25,627.30 972.00,619.80 994.75,612.30 1017.50,609.80 1040.25,607.30 1063.00,604.80 1085.75,602.30 1108.50,599.80 1131.25,599.80 1154.00,599.80 1176.75,599.80 1199.50,599.80" fill="none" stroke="#4ab8ea" stroke-width="1.6" stroke-dasharray="4,2.5"/>
<polyline points="790.00,717.80 812.75,702.55 835.50,689.05 858.25,677.55 881.00,669.05 903.75,662.80 926.50,661.80 949.25,669.05 972.00,661.80 994.75,655.55 1017.50,649.30 1040.25,641.30 1063.00,635.05 1085.75,630.30 1108.50,624.05 1131.25,618.80 1154.00,614.05 1176.75,614.05 1199.50,606.30 1222.25,581.55 1245.00,571.55" fill="none" stroke="#9d95f2" stroke-width="1.5"/>
<polyline points="790.00,715.30 812.75,692.80 835.50,664.80 858.25,654.30 881.00,647.55 903.75,645.55 926.50,646.55 949.25,631.30 972.00,627.80 994.75,622.80 1017.50,619.30 1040.25,614.05 1063.00,610.30 1085.75,606.80 1108.50,603.05 1131.25,600.30 1154.00,598.30 1176.75,598.30 1199.50,599.30 1222.25,603.05 1245.00,583.05" fill="none" stroke="#5ee23c" stroke-width="1.8"/>
<circle cx="790.00" cy="717.80" r="3.9" fill="#8c86f2" stroke="#22264a" stroke-width="1.2"/>
<circle cx="812.75" cy="702.55" r="3.9" fill="#8c86f2" stroke="#22264a" stroke-width="1.2"/>
<circle cx="835.50" cy="689.05" r="3.9" fill="#8c86f2" stroke="#22264a" stroke-width="1.2"/>
<circle cx="858.25" cy="677.55" r="3.9" fill="#8c86f2" stroke="#22264a" stroke-width="1.2"/>
<circle cx="881.00" cy="669.05" r="3.9" fill="#8c86f2" stroke="#22264a" stroke-width="1.2"/>
<circle cx="903.75" cy="662.80" r="3.9" fill="#8c86f2" stroke="#22264a" stroke-width="1.2"/>
<circle cx="926.50" cy="661.80" r="3.9" fill="#8c86f2" stroke="#22264a" stroke-width="1.2"/>
<circle cx="949.25" cy="669.05" r="3.9" fill="#8c86f2" stroke="#22264a" stroke-width="1.2"/>
<circle cx="972.00" cy="661.80" r="3.9" fill="#8c86f2" stroke="#22264a" stroke-width="1.2"/>
<circle cx="994.75" cy="655.55" r="3.9" fill="#8c86f2" stroke="#22264a" stroke-width="1.2"/>
<circle cx="1017.50" cy="649.30" r="3.9" fill="#8c86f2" stroke="#22264a" stroke-width="1.2"/>
<circle cx="1040.25" cy="641.30" r="3.9" fill="#8c86f2" stroke="#22264a" stroke-width="1.2"/>
<circle cx="1063.00" cy="635.05" r="3.9" fill="#8c86f2" stroke="#22264a" stroke-width="1.2"/>
<circle cx="1085.75" cy="630.30" r="3.9" fill="#8c86f2" stroke="#22264a" stroke-width="1.2"/>
<circle cx="1108.50" cy="624.05" r="3.9" fill="#8c86f2" stroke="#22264a" stroke-width="1.2"/>
<circle cx="1131.25" cy="618.80" r="3.9" fill="#8c86f2" stroke="#22264a" stroke-width="1.2"/>
<circle cx="1154.00" cy="614.05" r="3.9" fill="#8c86f2" stroke="#22264a" stroke-width="1.2"/>
<circle cx="1176.75" cy="614.05" r="3.9" fill="#8c86f2" stroke="#22264a" stroke-width="1.2"/>
<circle cx="1199.50" cy="606.30" r="3.9" fill="#8c86f2" stroke="#22264a" stroke-width="1.2"/>
<circle cx="1222.25" cy="581.55" r="3.9" fill="#8c86f2" stroke="#22264a" stroke-width="1.2"/>
<circle cx="1245.00" cy="571.55" r="3.9" fill="#8c86f2" stroke="#22264a" stroke-width="1.2"/>
<circle cx="790.00" cy="715.30" r="3.9" fill="#4fe02a" stroke="#1f4a24" stroke-width="1.2"/>
<circle cx="812.75" cy="692.80" r="3.9" fill="#4fe02a" stroke="#1f4a24" stroke-width="1.2"/>
<circle cx="835.50" cy="664.80" r="3.9" fill="#4fe02a" stroke="#1f4a24" stroke-width="1.2"/>
<circle cx="858.25" cy="654.30" r="3.9" fill="#4fe02a" stroke="#1f4a24" stroke-width="1.2"/>
<circle cx="881.00" cy="647.55" r="3.9" fill="#4fe02a" stroke="#1f4a24" stroke-width="1.2"/>
<circle cx="903.75" cy="645.55" r="3.9" fill="#4fe02a" stroke="#1f4a24" stroke-width="1.2"/>
<circle cx="926.50" cy="646.55" r="3.9" fill="#4fe02a" stroke="#1f4a24" stroke-width="1.2"/>
<circle cx="949.25" cy="631.30" r="3.9" fill="#4fe02a" stroke="#1f4a24" stroke-width="1.2"/>
<circle cx="972.00" cy="627.80" r="3.9" fill="#4fe02a" stroke="#1f4a24" stroke-width="1.2"/>
<circle cx="994.75" cy="622.80" r="3.9" fill="#4fe02a" stroke="#1f4a24" stroke-width="1.2"/>
<circle cx="1017.50" cy="619.30" r="3.9" fill="#4fe02a" stroke="#1f4a24" stroke-width="1.2"/>
<circle cx="1040.25" cy="614.05" r="3.9" fill="#4fe02a" stroke="#1f4a24" stroke-width="1.2"/>
<circle cx="1063.00" cy="610.30" r="3.9" fill="#4fe02a" stroke="#1f4a24" stroke-width="1.2"/>
<circle cx="1085.75" cy="606.80" r="3.9" fill="#4fe02a" stroke="#1f4a24" stroke-width="1.2"/>
<circle cx="1108.50" cy="603.05" r="3.9" fill="#4fe02a" stroke="#1f4a24" stroke-width="1.2"/>
<circle cx="1131.25" cy="600.30" r="3.9" fill="#4fe02a" stroke="#1f4a24" stroke-width="1.2"/>
<circle cx="1154.00" cy="598.30" r="3.9" fill="#4fe02a" stroke="#1f4a24" stroke-width="1.2"/>
<circle cx="1176.75" cy="598.30" r="3.9" fill="#4fe02a" stroke="#1f4a24" stroke-width="1.2"/>
<circle cx="1199.50" cy="599.30" r="3.9" fill="#4fe02a" stroke="#1f4a24" stroke-width="1.2"/>
<circle cx="1222.25" cy="603.05" r="3.9" fill="#4fe02a" stroke="#1f4a24" stroke-width="1.2"/>
<circle cx="1245.00" cy="583.05" r="3.9" fill="#4fe02a" stroke="#1f4a24" stroke-width="1.2"/>
</g>
<rect x="1265" y="550.8" width="158" height="57.5" fill="#fff" stroke="#6d7f87" stroke-width="1.8"/>
<line x1="1271" y1="561.8" x2="1286" y2="561.8" stroke="#7ae060" stroke-width="1.2" />
<circle cx="1278.6" cy="561.8" r="3.9" fill="#4fe02a" stroke="#1f4a24" stroke-width="1.2"/>
<text x="1291" y="566" font-size="13" fill="#2d4952" textLength="123" lengthAdjust="spacingAndGlyphs">Sound reduction (dB)</text>
<line x1="1271" y1="579" x2="1287" y2="579" stroke="#5fc0ea" stroke-width="1.6" stroke-dasharray="3,2"/>
<text x="1291" y="583.4" font-size="13" fill="#2d4952" textLength="52" lengthAdjust="spacingAndGlyphs">Rw 86 dB</text>
<line x1="1271" y1="596.5" x2="1286" y2="596.5" stroke="#9d95f2" stroke-width="1.2" />
<circle cx="1278.6" cy="596.5" r="3.9" fill="#8c86f2" stroke="#22264a" stroke-width="1.2"/>
<text x="1291" y="600.8" font-size="13" fill="#2d4952" textLength="99" lengthAdjust="spacingAndGlyphs">prv plafon Rw 75</text>
<defs><linearGradient id="bg1" x1="0" y1="0" x2="0" y2="1"><stop offset="0" stop-color="#f0f0f0"/><stop offset="1" stop-color="#dcdcdc"/></linearGradient></defs>
<rect x="1250.5" y="651.5" width="57.5" height="57.5" fill="url(#bg1)" stroke="#e2a9b0" stroke-width="1"/>
<rect x="1319" y="652.2" width="55.4" height="56" fill="url(#bg1)" rx="5"/>
<rect x="1386.3" y="652.9" width="55.7" height="55.2" fill="url(#bg1)" rx="5"/>
<g fill="none" stroke-linejoin="miter" stroke-width="2.8"><polyline points="1263.2,689.7 1275.4,689.7 1285.6,670.6 1299.1,678.1" stroke="#153a48"/><polyline points="1263.2,678.5 1272.2,674.2 1280.1,678.9000000000001 1289.6,685.6 1299.1,685.6" stroke="#1d6a9a"/><line x1="1262" y1="699.9000000000001" x2="1262" y2="665.7" stroke="#153a48"/><line x1="1260.8" y1="698.7" x2="1295.5" y2="698.7" stroke="#153a48"/></g>
<polygon points="1262,658.7 1257.7,666.2 1266.3,666.2" fill="#153a48"/>
<polygon points="1301.5,698.7 1295,694.5 1295,702.9000000000001" fill="#153a48"/>
<g fill="none" stroke-linejoin="miter" stroke-width="2.8"><polyline points="1331.0,689.7 1343.2,689.7 1353.3999999999999,670.6 1366.8999999999999,678.1" stroke="#1d6a9a"/><polyline points="1331.0,678.5 1340.0,674.2 1347.8999999999999,678.9000000000001 1357.3999999999999,685.6 1366.8999999999999,685.6" stroke="#153a48"/><line x1="1329.8" y1="699.9000000000001" x2="1329.8" y2="665.7" stroke="#153a48"/><line x1="1328.6" y1="698.7" x2="1363.3" y2="698.7" stroke="#153a48"/></g>
<polygon points="1329.8,658.7 1325.5,666.2 1334.1,666.2" fill="#153a48"/>
<polygon points="1369.3,698.7 1362.8,694.5 1362.8,702.9000000000001" fill="#153a48"/>
<g fill="none" stroke-width="2.6"><polyline points="1398.2,681.3000000000001 1406.0,677.8000000000001 1414.0,682.0 1421.8,687.6 1427.4,688.0" stroke="#1d6a9a"/><polyline points="1398.2,691.2 1409.2,691.2 1418.7,675.4 1427.4,678.9" stroke="#153a48"/><line x1="1397.2" y1="700.6" x2="1397.2" y2="669.6" stroke="#153a48"/><line x1="1396.2" y1="699.6" x2="1429.2" y2="699.6" stroke="#153a48"/></g>
<polygon points="1397.2,663.6 1393.6000000000001,669.6 1400.8,669.6" fill="#153a48"/>
<polygon points="1434.5,699.6 1428.7,696.0 1428.7,703.2" fill="#153a48"/>
<path d="M1406,663.5 H1434.5 V694.3 H1427.4 V670.6 H1406 Z" fill="#0b5e95"/>
<rect x="1414.3" y="659.6" width="11.6" height="4.6" fill="none" stroke="#0b5e95" stroke-width="2"/>
<rect x="1263.2" y="773" width="16.6" height="16.6" fill="#035a8c"/>
<path d="M1267.5,777.3 L1275.5,785.3 M1275.5,777.3 L1267.5,785.3" stroke="#fff" stroke-width="2"/>
<text x="1286" y="787.2" font-size="14.5" fill="#2d4952" textLength="70.5" lengthAdjust="spacingAndGlyphs">Auto Scale</text>
<rect x="1263.2" y="802.2" width="16.6" height="16" fill="#035a8c"/>
<text x="1286" y="815.5" font-size="14.5" fill="#2d4952" textLength="132.5" lengthAdjust="spacingAndGlyphs">Show Flanking Limit</text>
<line x1="0" y1="886.4" x2="1451" y2="886.4" stroke="#2c78aa" stroke-width="1.6" />
</svg>
</body></html>
